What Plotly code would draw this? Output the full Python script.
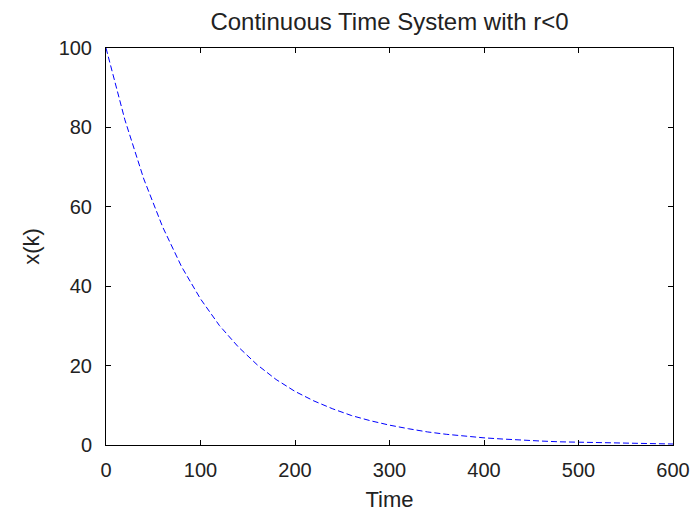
import plotly.graph_objects as go

# Values
time = [0, 20, 40, 60, 80, 100, 120, 140, 160, 180, 200, 220, 240, 260, 280,
        300, 320, 340, 360, 380, 400, 420, 440, 460, 480, 500, 520, 540, 560,
        580, 600]
xk = [100, 81.9, 67.0, 54.9, 44.9, 36.8, 30.1, 24.7, 20.2, 16.5, 13.5, 11.1,
      9.1, 7.4, 6.1, 5.0, 4.1, 3.3, 2.7, 2.2, 1.8, 1.5, 1.2, 1.0, 0.8, 0.7,
      0.55, 0.45, 0.37, 0.3, 0.25]

x_ticks = [0, 100, 200, 300, 400, 500, 600]
y_ticks = [0, 20, 40, 60, 80, 100]

FONT = "Liberation Sans, Arial, sans-serif"

fig = go.Figure()
fig.add_trace(go.Scatter(
    x=time, y=xk, mode="lines",
    line=dict(color="#0000FF", width=1, dash="6px,3px"),
    showlegend=False,
))

axis_common = dict(
    showgrid=False, zeroline=False,
    showline=True, linecolor="black", linewidth=1,
    mirror="allticks", ticks="inside", ticklen=5, tickcolor="black",
    tickfont=dict(family=FONT, size=20, color="#222222"),
    automargin=False,
)

fig.update_layout(
    width=697, height=512,
    margin=dict(l=106, r=24, t=48, b=67),
    paper_bgcolor="white", plot_bgcolor="white",
    title=dict(text="Continuous Time System with r<0",
               font=dict(family=FONT, size=24, color="#222222"),
               x=0.5, xref="paper", xanchor="center",
               y=1 - 22 / 512, yref="container", yanchor="middle"),
    xaxis=dict(range=[0, 600], tickvals=x_ticks,
               title=dict(text="Time", standoff=12,
                          font=dict(family=FONT, size=22, color="#222222")),
               ticklabelstandoff=7,
               **axis_common),
    yaxis=dict(range=[0, 100], tickvals=y_ticks,
               title=dict(text="x(k)", standoff=12,
                          font=dict(family=FONT, size=22, color="#222222")),
               ticklabelstandoff=9,
               **axis_common),
)

fig.write_html("out.html")
